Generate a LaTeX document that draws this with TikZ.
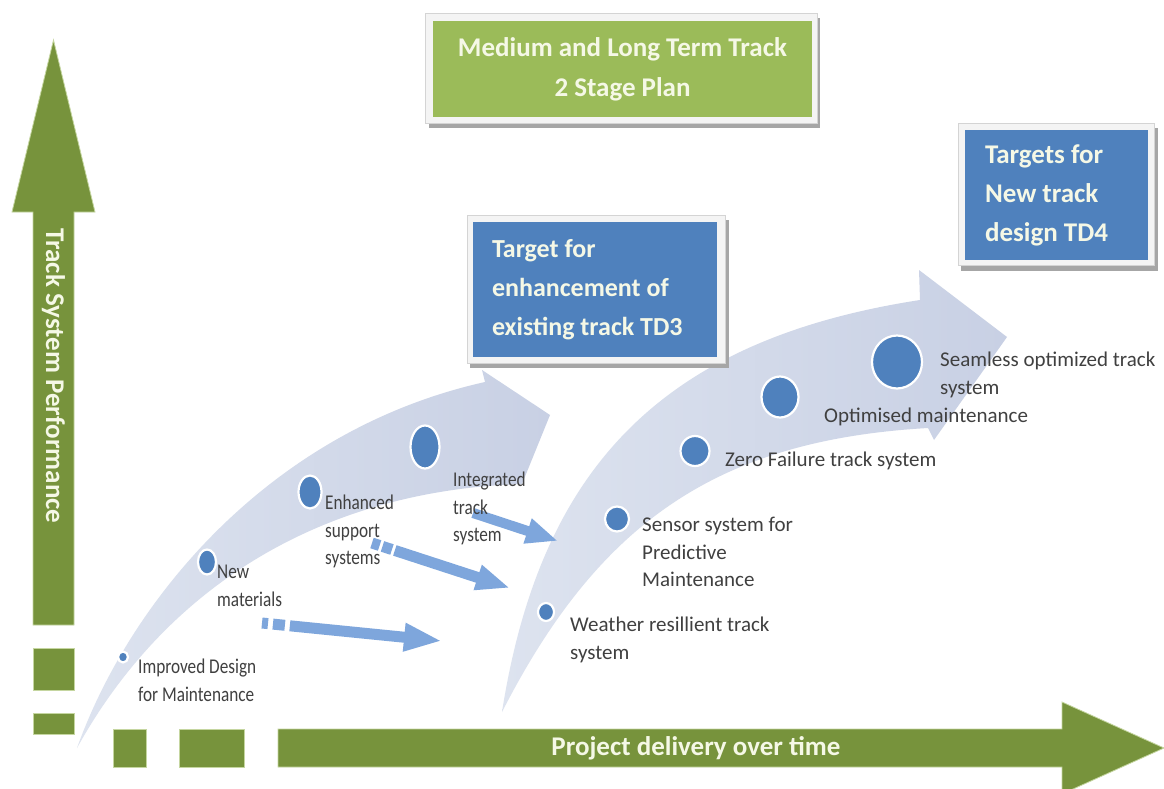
\documentclass[tikz,border=0pt]{standalone}
\usepackage{fontspec}
\setmainfont{Carlito}
\newfontfamily\lblnarrow[FakeStretch=0.82]{Carlito}
\usetikzlibrary{arrows.meta,calc,shapes.geometric}
\definecolor{dkgreen}{HTML}{77933C}
\definecolor{ltgreen}{HTML}{9BBB59}
\definecolor{boxblue}{HTML}{4F81BD}
\definecolor{bandc}{HTML}{C8D0E4}
\definecolor{bandlt}{HTML}{DDE3EF}
\definecolor{flow}{HTML}{7EA6DC}
\definecolor{lblc}{HTML}{404040}
\definecolor{boxtxt}{HTML}{F5F8E6}
\definecolor{framec}{HTML}{F4F4F4}
\definecolor{frameln}{HTML}{D4D4D4}
\definecolor{shadowc}{HTML}{A6A6A6}
\definecolor{glow}{HTML}{C5D6A0}
\begin{document}
\begin{tikzpicture}[x=1pt,y=-1pt,
  lbl/.style={anchor=north west, inner sep=0pt, align=flush left, text=lblc, font=\fontsize{21}{27.5}\selectfont},
  lbln/.style={anchor=north west, inner sep=0pt, align=flush left, text=lblc, font=\lblnarrow\fontsize{21}{27.5}\selectfont},
  dot/.style={ellipse, fill=boxblue, draw=white, line width=2.2pt, inner sep=0pt},
  flowarrow/.style={draw=flow, line width=11pt},
  band/.style={left color=bandlt, right color=bandc},
  axis/.style={fill=dkgreen, draw=glow, line width=0.8pt},
  boxtext/.style={text=boxtxt, font=\bfseries\fontsize{27}{39}\selectfont},
  frame/.style={fill=framec, draw=frameln, line width=0.8pt},
  shadowbox/.style={fill=shadowc}
]
\useasboundingbox (0,0) rectangle (1164,789);
\clip (0,0) rectangle (1164,789);
\fill[white] (0,0) rectangle (1164,789);

% curved progress bands
\shade[band] (77,748) .. controls (130,600) and (270,430) .. (485,382) -- (482,370) -- (550,415) -- (522,484) .. controls (330,490) and (170,580) .. (77,748) -- cycle;
\shade[band] (502,712) .. controls (540,470) and (660,340) .. (920,300) -- (919,270) -- (1007,337) -- (934,440) -- (928,428) .. controls (720,440) and (600,520) .. (502,712) -- cycle;

% axes
\path[axis] (33,625) -- (33,212) -- (12,212) -- (53.5,40) -- (95,212) -- (74,212) -- (74,625) -- cycle;
\path[axis] (33,648) rectangle (74,690);
\path[axis] (33,713) rectangle (74,734);
\path[axis] (113,729) rectangle (146,767);
\path[axis] (179,729) rectangle (244,767);
\path[axis] (278,729) -- (1062,729) -- (1062,702) -- (1164,748) -- (1062,794) -- (1062,767) -- (278,767) -- cycle;
\node[rotate=-90, text=boxtxt, font=\bfseries\fontsize{27}{30}\selectfont] (yaxis) at (53.5,376) {Track System Performance};
\node[text=boxtxt, font=\bfseries\fontsize{27}{30}\selectfont] (xaxis) at (696,748) {Project delivery over time};

% flow arrows
\coordinate (fa1) at (262,623); \coordinate (fa2) at (442,641);
\coordinate (fb1) at (372,543); \coordinate (fb2) at (510,588);
\coordinate (fc1) at (473,513); \coordinate (fc2) at (558,541);
\draw[flowarrow, dash pattern=on 6pt off 5pt on 12pt off 5pt on 400pt, -{Triangle[length=38pt,width=26pt]}] (fa1) -- (fa2);
\draw[flowarrow, dash pattern=on 8pt off 3pt on 10pt off 3pt on 400pt, -{Triangle[length=34pt,width=24pt]}] (fb1) -- (fb2);
\draw[flowarrow, line width=10pt, -{Triangle[length=32pt,width=24pt]}] (fc1) -- (fc2);

% milestones, first band
\node[dot, minimum width=10pt, minimum height=11pt] (c11) at (123,657) {};
\node[dot, minimum width=18pt, minimum height=25pt] (c12) at (207,562) {};
\node[dot, minimum width=23pt, minimum height=33pt] (c13) at (310,492) {};
\node[dot, minimum width=29pt, minimum height=43pt] (c14) at (425,447) {};
% milestones, second band
\node[dot, minimum width=16pt, minimum height=18pt] (c21) at (546,612) {};
\node[dot, minimum width=24pt, minimum height=25pt] (c22) at (617,519) {};
\node[dot, minimum width=29pt, minimum height=30pt] (c23) at (695,451) {};
\node[dot, minimum width=37pt, minimum height=41pt] (c24) at (780,397) {};
\node[dot, minimum width=50pt, minimum height=53pt] (c25) at (897,362) {};

% labels
\node[lbln] (l11) at (138,659) {Improved Design\\for Maintenance};
\node[lbln] (l12) at (217,565) {New\\materials};
\node[lbln] (l13) at (325,495) {Enhanced\\support\\systems};
\node[lbln] (l14) at (453,472) {Integrated\\track\\system};
\node[lbl] (l21) at (570,617) {Weather resillient track\\system};
\node[lbl] (l22) at (642,517) {Sensor system for\\Predictive\\Maintenance};
\node[lbl] (l23) at (725,452) {Zero Failure track system};
\node[lbl] (l24) at (824,408) {Optimised maintenance};
\node[lbl] (l25) at (940,352) {Seamless optimized track\\system};

% title box
\fill[shadowbox] (429,18) rectangle (820,128);
\path[frame] (425,13) rectangle (817,123);
\node[fill=ltgreen, minimum width=379pt, minimum height=96pt, align=center, boxtext, font=\bfseries\fontsize{27}{40}\selectfont] (plan) at (622.5,69) {Medium and Long Term Track\\2 Stage Plan};

% TD3 box
\fill[shadowbox] (470,220) rectangle (729,368);
\path[frame] (467,215) rectangle (725,363);
\node[fill=boxblue, minimum width=244pt, minimum height=135pt, text width=206pt, inner xsep=19pt, inner ysep=0pt, align=flush left, boxtext, font=\bfseries\fontsize{26}{39}\selectfont] (td3) at (595,289.5) {Target for\\enhancement of\\existing track TD3};

% TD4 box
\fill[shadowbox] (961,128) rectangle (1158,271);
\path[frame] (958,123) rectangle (1154,265);
\node[fill=boxblue, minimum width=183pt, minimum height=130pt, text width=143pt, inner xsep=20pt, inner ysep=0pt, align=flush left, boxtext] (td4) at (1056.5,195) {Targets for\\New track\\design TD4};
\end{tikzpicture}
\end{document}
